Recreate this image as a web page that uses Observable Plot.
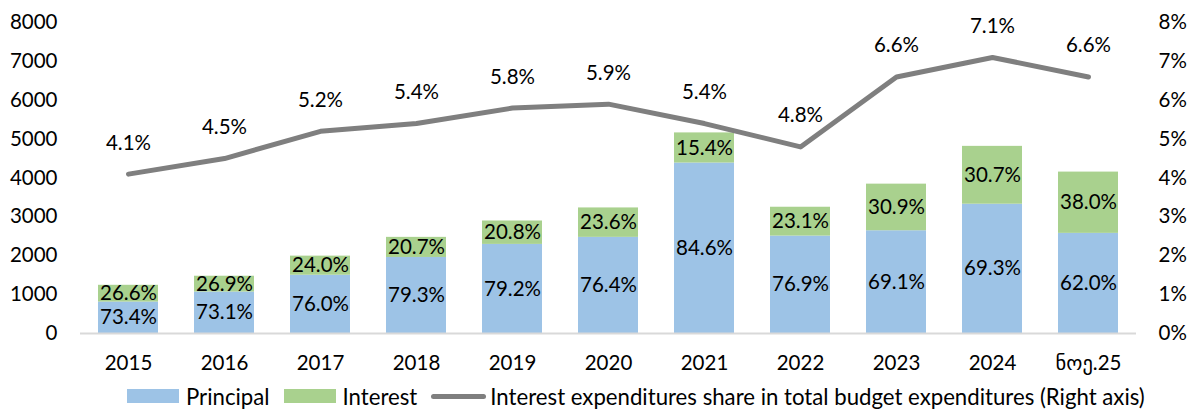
<!DOCTYPE html>
<html>
<head>
<meta charset="utf-8">
<script src="https://cdn.jsdelivr.net/npm/d3@7"></script>
<script src="https://cdn.jsdelivr.net/npm/@observablehq/plot@0.6"></script>
<style>
  body { margin: 0; background: #fff; font-family: Lato, "DejaVu Sans", sans-serif; }
  #legend { display: flex; align-items: center; height: 42px; padding-left: 127px; font-size: 22.2px; color: #000; white-space: nowrap; }
  .sw { width: 52px; height: 14px; margin-right: 7px; }
  .ln { width: 55px; height: 5px; border-radius: 3px; background: #7f7f7f; margin-right: 4px; }
  .it { display: flex; align-items: center; margin-right: 14px; }
</style>
</head>
<body>
<div id="chart"></div>
<div id="legend">
  <div class="it"><div class="sw" style="background:#9dc3e6"></div>Principal</div>
  <div class="it"><div class="sw" style="background:#a9d18e"></div>Interest</div>
  <div class="it"><div class="ln"></div>Interest expenditures share in total budget expenditures (Right axis)</div>
</div>
<script>
const categories = ["2015","2016","2017","2018","2019","2020","2021","2022","2023","2024","ნოე.25"];
const principal = [809, 1067, 1499, 1956, 2292, 2473, 4385, 2506, 2643, 3326, 2576];
const interest  = [431, 406, 491, 517, 602, 757, 775, 742, 1199, 1488, 1576];
const principalLabels = ["73.4%","73.1%","76.0%","79.3%","79.2%","76.4%","84.6%","76.9%","69.1%","69.3%","62.0%"];
const interestLabels  = ["26.6%","26.9%","24.0%","20.7%","20.8%","23.6%","15.4%","23.1%","30.9%","30.7%","38.0%"];
const sharePct = [4.1, 4.5, 5.2, 5.4, 5.8, 5.9, 5.4, 4.8, 6.6, 7.1, 6.6];
const leftTicks = [0,1000,2000,3000,4000,5000,6000,7000,8000];
const rightTicks = [0,1,2,3,4,5,6,7,8];

const rows = [];
categories.forEach((c, i) => {
  rows.push({cat: c, type: "Principal", value: principal[i], label: principalLabels[i]});
  rows.push({cat: c, type: "Interest", value: interest[i], label: interestLabels[i]});
});
const line = categories.map((c, i) => ({cat: c, share: sharePct[i]}));
// right axis (0–8%) shares the left pixel range (0–8000)
const toLeft = v => v * 1000;

const font = 'Lato, "DejaVu Sans", sans-serif';
const fs = 20.5;
const chart = Plot.plot({
  width: 1194,
  height: 375,
  marginLeft: 80,
  marginRight: 58,
  marginTop: 22,
  marginBottom: 42,
  style: {fontFamily: font, fontSize: fs + "px", color: "#000", background: "#fff"},
  x: {type: "band", domain: categories, paddingInner: 0.375, paddingOuter: 0.1875, label: null},
  y: {domain: [0, 8000], label: null},
  color: {domain: ["Principal", "Interest"], range: ["#9dc3e6", "#a9d18e"]},
  marks: [
    Plot.barY(rows, {x: "cat", y: "value", fill: "type"}),
    Plot.ruleY([0], {stroke: "#d9d9d9", strokeWidth: 2}),
    Plot.text(rows, Plot.stackY({x: "cat", y: "value", text: "label", fill: "#000", fontSize: fs})),
    Plot.line(line, {x: "cat", y: d => toLeft(d.share), stroke: "#7f7f7f", strokeWidth: 5, strokeLinecap: "round", strokeLinejoin: "round"}),
    Plot.text(line, {x: "cat", y: d => toLeft(d.share), text: d => d.share.toFixed(1) + "%", dy: -31, fill: "#000", fontSize: fs}),
    Plot.axisY({anchor: "left", ticks: leftTicks, tickFormat: d => String(d), tickSize: 0, tickPadding: 23, fontSize: fs, label: null}),
    Plot.axisY({anchor: "right", ticks: rightTicks.map(toLeft), tickFormat: d => (d / 1000) + "%", tickSize: 0, tickPadding: 22, fontSize: fs, label: null}),
    Plot.axisX({anchor: "bottom", tickSize: 0, tickPadding: 22, fontSize: fs, label: null})
  ]
});
document.getElementById("chart").appendChild(chart);
</script>
</body>
</html>
